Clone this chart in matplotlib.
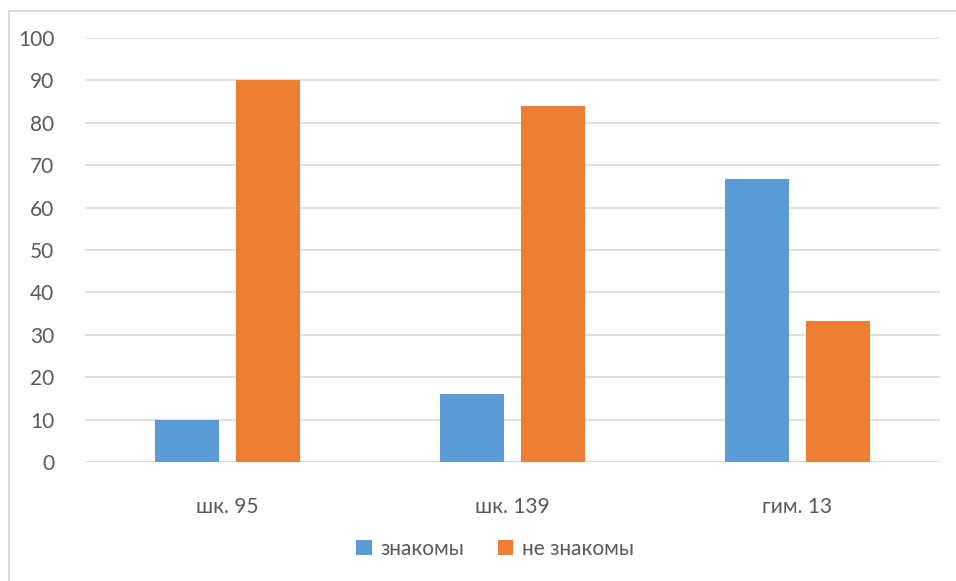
import matplotlib.pyplot as plt
from matplotlib.lines import Line2D
import numpy as np

plt.rcParams['font.family'] = ['Lato', 'DejaVu Sans']

categories = ["шк. 95", "шк. 139", "гим. 13"]
znakomy = [10, 16, 66.7]
ne_znakomy = [90, 84, 33.3]
series_names = ["знакомы", "не знакомы"]

BLUE = "#5b9bd5"
ORANGE = "#ed7d31"
TEXT = "#595959"
GRID = "#d9d9d9"

fig = plt.figure(figsize=(9.56, 5.81), dpi=100)
ax = fig.add_axes([85 / 956, 119 / 581, 855 / 956, 424 / 581])

x = np.arange(len(categories))
w = 0.225
ax.bar(x - 0.1425, znakomy, w, color=BLUE, label=series_names[0], zorder=3)
ax.bar(x + 0.1425, ne_znakomy, w, color=ORANGE, label=series_names[1], zorder=3)

ax.set_xlim(-0.5, 2.5)
ax.set_ylim(0, 100)
ax.set_yticks(range(0, 101, 10))
ax.yaxis.grid(True, color=GRID, linewidth=1.2, zorder=0)
for s in ax.spines.values():
    s.set_visible(False)
ax.axhline(0, color=GRID, linewidth=1.2, zorder=2)
ax.set_xticks(x)
ax.set_xticklabels(categories)
ax.tick_params(length=0, labelsize=15, colors=TEXT)
ax.tick_params(axis='y', pad=22)
ax.tick_params(axis='x', pad=25)

fig.legend(loc='center', bbox_to_anchor=(495 / 956, 1 - 549 / 581), ncol=2,
           frameon=False, fontsize=15, labelcolor=TEXT, handlelength=0.75,
           handleheight=0.75, columnspacing=1.6, handletextpad=0.4)

# outer frame (left and top edges visible)
fig.add_artist(Line2D([9 / 956, 9 / 956], [0, 1 - 11 / 581], color="#d9d9d9", lw=1.5))
fig.add_artist(Line2D([9 / 956, 1], [1 - 11 / 581, 1 - 11 / 581], color="#d9d9d9", lw=1.5))

fig.savefig("out.png", dpi=100)
